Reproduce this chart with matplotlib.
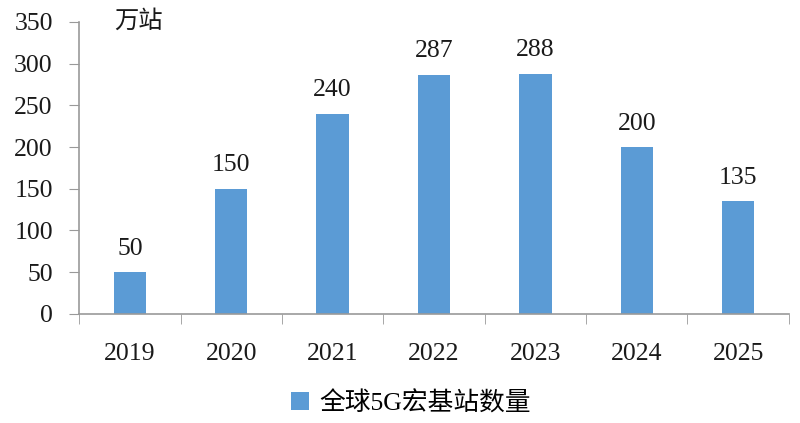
import matplotlib.pyplot as plt
import numpy as np

# data
years = ['2019', '2020', '2021', '2022', '2023', '2024', '2025']
stations = [50, 150, 240, 287, 288, 200, 135]
series_name = '全球5G宏基站数量'
unit = '万站'

plt.rcParams['font.family'] = ['Liberation Serif', 'Noto Sans CJK SC', 'DejaVu Sans']

fig = plt.figure(figsize=(8, 4.23), dpi=100)
ax = fig.add_axes([0.099, 0.258, 0.887, 0.69])

x = np.arange(len(years))
bars = ax.bar(x, stations, width=0.32, color='#5B9BD5', label=series_name)

for xi, v in zip(x, stations):
    ax.text(xi, v + 15, str(v), ha='center', va='bottom', fontsize=18.5, color='#1a1a1a')

ax.set_xlim(-0.5, len(years) - 0.5)
ax.set_ylim(0, 350)
ax.set_yticks(range(0, 351, 50))
ax.tick_params(axis='y', labelsize=18.5, length=7, pad=12, color='#999999',
               labelcolor='#1a1a1a', direction='out')
ax.set_xticks(x)
ax.set_xticklabels(years)
ax.tick_params(axis='x', labelsize=18.5, length=0, pad=21, labelcolor='#1a1a1a')
# minor ticks between categories
ax.set_xticks(np.arange(-0.5, len(years)), minor=True)
ax.tick_params(axis='x', which='minor', length=7, color='#999999')

for s in ['top', 'right']:
    ax.spines[s].set_visible(False)
for s in ['left', 'bottom']:
    ax.spines[s].set_color('#999999')
    ax.spines[s].set_linewidth(1.2)

ax.text(0.05, 1.005, unit, transform=ax.transAxes, fontsize=17.5,
        family=['Noto Sans CJK SC', 'DejaVu Sans'], va='center', ha='left', color='#1a1a1a')

fig.legend(handles=[bars], labels=[series_name], loc='center', bbox_to_anchor=(0.514, 0.047),
           frameon=False, handlelength=0.7, handleheight=0.7, handletextpad=0.4,
           prop={'family': ['Liberation Serif', 'Noto Sans CJK SC'], 'size': 18.5})

fig.savefig('out.png', dpi=100)
